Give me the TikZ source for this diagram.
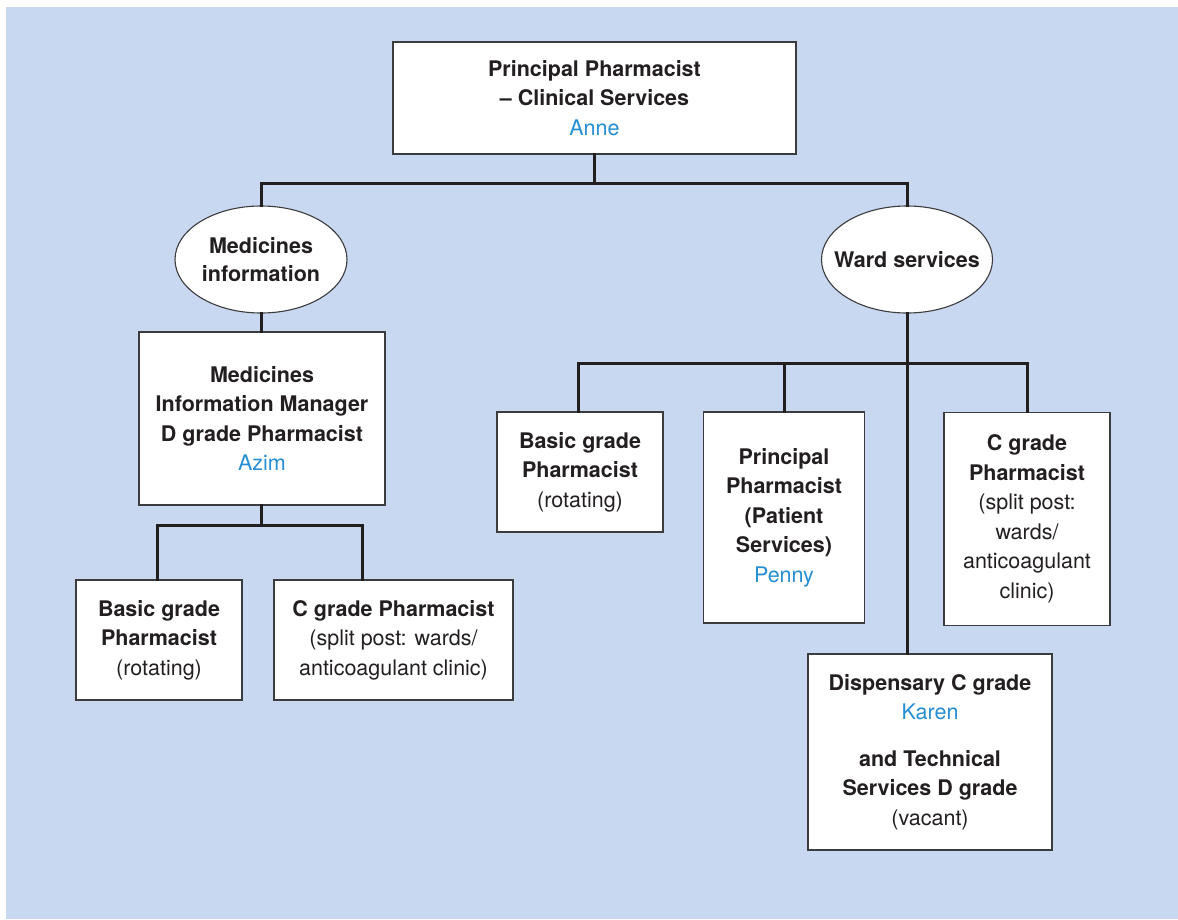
\documentclass[tikz,border=0pt]{standalone}
\usepackage{fontspec}
\setmainfont{TeX Gyre Heros}
\usetikzlibrary{shapes.geometric}
\definecolor{bgblue}{RGB}{200,216,240}
\definecolor{namecol}{RGB}{38,142,210}
\definecolor{ink}{RGB}{35,31,32}
\definecolor{edge}{RGB}{60,60,62}
\newcommand{\nm}[1]{{\mdseries\color{namecol}#1}}
\newcommand{\rg}[1]{{\mdseries #1}}
\tikzset{
  txt/.style={font=\fontsize{21.5}{29.5}\selectfont\bfseries, text=ink, align=center},
  box/.style={txt, draw=edge, fill=white, line width=1.3pt, inner sep=2pt},
  oval/.style={draw=edge, fill=white, ellipse, line width=1.1pt, inner sep=0pt},
  conn/.style={draw=ink, line width=3pt, line join=miter, line cap=rect},
}
\begin{document}
\begin{tikzpicture}[x=1pt,y=-1pt]
\useasboundingbox (0,0) rectangle (1178,919);
\fill[white] (0,0) rectangle (1178,919);
\fill[bgblue] (6,7) rectangle (1178,919);

% nodes
\node[box, minimum width=403pt, minimum height=112pt] (top) at (594.5,98)
  {Principal Pharmacist\\ – Clinical Services\\ \nm{Anne}};
\node[oval, minimum width=172pt, minimum height=107pt,
  label={[txt, font=\fontsize{21.5}{28}\selectfont\bfseries]center:Medicines\\information}] (medinfo) at (261,259.5) {};
\node[oval, minimum width=171pt, minimum height=107pt,
  label={[txt]center:Ward services}] (ward) at (907,259.5) {};

\node[box, minimum width=246pt, minimum height=173pt] (mim) at (262,418.5)
  {Medicines\\ Information Manager\\ D grade Pharmacist\\ \nm{Azim}};
\node[box, minimum width=166pt, minimum height=120pt] (basicL) at (159,640)
  {Basic grade\\ Pharmacist\\ \rg{(rotating)}};
\node[box, minimum width=239pt, minimum height=120pt] (cL) at (393.5,640)
  {C grade Pharmacist\\ \rg{(split post: wards/}\\ \rg{anticoagulant clinic)}};

\node[box, minimum width=166pt, minimum height=120pt] (basicR) at (580,472)
  {Basic grade\\ Pharmacist\\ \rg{(rotating)}};
\node[box, minimum width=161pt, minimum height=211pt] (princ) at (784,517.5)
  {Principal\\ Pharmacist\\ (Patient\\ Services)\\ \nm{Penny}};
\node[box, minimum width=166pt, minimum height=213pt] (cR) at (1027,519)
  {C grade\\ Pharmacist\\ \rg{(split post:}\\ \rg{wards/}\\ \rg{anticoagulant}\\ \rg{clinic)}};
\node[box, minimum width=244pt, minimum height=196pt] (disp) at (930,752)
  {Dispensary C grade\\ \nm{Karen}\\[17pt] and Technical\\ Services D grade\\ \rg{(vacant)}};

% junction coordinates
\coordinate (j1) at (594.5,183);
\coordinate (j2) at (261,525);
\coordinate (j3) at (906,363);

% connectors
\draw[conn] (top.south) -- (j1);
\draw[conn] (medinfo.north) -- (medinfo.north |- j1) -- (ward.north |- j1) -- (ward.north);
\draw[conn] (medinfo.south) -- (medinfo.south |- mim.north);
\draw[conn] (mim.south -| j2) -- (j2);
\draw[conn] ([xshift=-2pt]basicL.north) -- ([xshift=-2pt]basicL.north |- j2) -- ([xshift=-31pt]cL.north |- j2) -- ([xshift=-31pt]cL.north);
\draw[conn] (ward.south) -- (ward.south |- disp.north);
\draw[conn] ([xshift=-2pt]basicR.north) -- ([xshift=-2pt]basicR.north |- j3) -- (cR.north |- j3) -- (cR.north);
\draw[conn] (princ.north) -- (princ.north |- j3);
\end{tikzpicture}
\end{document}
